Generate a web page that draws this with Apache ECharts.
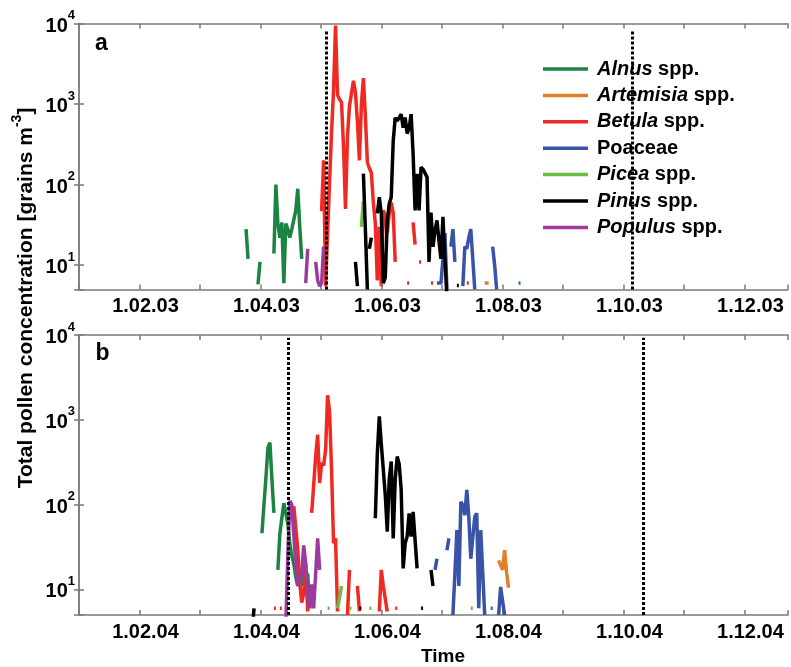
<!DOCTYPE html>
<html>
<head>
<meta charset="utf-8">
<script src="https://cdn.jsdelivr.net/npm/echarts@6/dist/echarts.min.js"></script>
<style>
  html, body { margin: 0; padding: 0; background: #fff; }
  #chart { width: 791px; height: 667px; }
</style>
</head>
<body>
<div id="chart"></div>
<script>
// Daily pollen concentrations (grains m^-3), day index counted from 1 January.
// Each series is a list of [firstDay, [daily values...]] runs; days without
// pollen are left out, so the line breaks between runs.

const seriesNames = ['Alnus spp.', 'Artemisia spp.', 'Betula spp.', 'Poaceae', 'Picea spp.', 'Pinus spp.', 'Populus spp.'];
const seriesColors = ['#1b8442', '#e07f2c', '#ee2a22', '#3953a6', '#6bbd4a', '#000000', '#9c3a9e'];

const tickLabels2003 = ['1.02.03', '1.04.03', '1.06.03', '1.08.03', '1.10.03', '1.12.03'];
const tickLabels2004 = ['1.02.04', '1.04.04', '1.06.04', '1.08.04', '1.10.04', '1.12.04'];

// ---- 2003 ----
const alnus2003 = [[84, [28, 12]], [90, [5.8, 11]],
  [98, [14, 100, 33, 22, 34, 6, 33, 28, 22, 28, 28, 48, 89, 30, 12]], [221, [6, 6]]];
const artemisia2003 = [[204, [6, 6, 6]]];
const betula2003 = [
  [122, [47, 200, 5.5, 25, 110, 450, 1500, 9400, 1300, 1150, 1050, 300, 50, 400, 950, 950, 1950, 1400,
         600, 200, 1000, 2100, 700, 190, 160, 140, 60, 33, 6.5, 30, 5.5, 48, 40, 25, 44, 60, 44, 11]],
  [165, [6, 6]], [168, [34, 18]], [171, [11, 11]], [177, [6, 6]], [195, [6, 6]]];
const poaceae2003 = [[180, [6, 6, 6, 12, 25, 5]], [187, [17, 28, 11]],
  [193, [5.5, 17, 16, 22, 28, 12, 5]], [208, [17, 10, 5]]];
const picea2003 = [[142, [30, 62]], [152, [6, 6]]];
const pinus2003 = [[139, [11, 5.5]], [143, [137, 28, 5]], [146, [16, 22]],
  [150, [44, 70, 44, 6, 7, 36, 58, 70, 350, 680, 620, 680, 750, 510, 680, 430, 510, 750, 240, 48,
         136, 48, 165, 155, 150, 124, 11, 45, 17, 27, 36, 20, 12, 40, 12, 4]],
  [190, [5.6, 5.6]]];
const populus2003 = [[114, [6, 16]], [119, [11, 6.5, 5.5, 6, 17]]];

// ---- 2004 ----
const alnus2004 = [[92, [46, 100, 210, 470, 540, 200, 80]],
  [100, [17, 46, 46, 104, 104, 60, 35, 25, 20, 14, 11, 17, 11, 17, 17, 15, 6]]];
const artemisia2004 = [[197, [6, 6]], [211, [22, 21, 17, 29, 16, 10.5]]];
const betula2004 = [[98, [6, 6]], [101, [6, 6]], [108, [96, 93, 30, 12, 7, 9, 20, 5.5]],
  [117, [80, 170, 370, 667, 180, 310, 290, 440, 1950, 1250, 250, 35, 40, 5.5]],
  [135, [5, 17]], [140, [11, 5.5]], [151, [5.5, 17, 11, 10.5, 5.5]], [159, [6, 6]]];
const poaceae2004 = [[179, [17, 23]], [185, [29, 40]],
  [188, [5, 15, 50, 11, 108, 99, 75, 149, 72, 23, 22, 72, 79, 6, 50, 50, 5]],
  [207, [6, 6]], [211, [5, 10.7, 10.7, 5]]];
const picea2004 = [[125, [6, 6]], [130, [6, 8, 11]], [136, [6, 6]], [146, [6, 6]]];
const pinus2004 = [[87, [3, 6]], [141, [6, 6]],
  [149, [69, 400, 1100, 520, 510, 130, 48, 200, 322, 40, 200, 369, 300, 150, 17.7, 35, 42, 79, 42, 82, 38, 17.7]],
  [172, [6, 6]], [177, [17, 11]]];
const populus2004 = [[104, [4, 25, 111, 100, 44, 20, 11, 11, 15, 33, 20, 8, 6, 11.5, 6, 6, 40, 17]]];

// Dotted reference dates (day index) and the concentration their lines reach
const markerDays2003 = [124.25, 278];
const markerDays2004 = [105.2, 283.5];
const markerTop2003 = 8000;
const markerTop2004 = 9300;

const panels = [
  { labels: tickLabels2003, data: [alnus2003, artemisia2003, betula2003, poaceae2003, picea2003, pinus2003, populus2003],
    markers: markerDays2003, markerTop: markerTop2003 },
  { labels: tickLabels2004, data: [alnus2004, artemisia2004, betula2004, poaceae2004, picea2004, pinus2004, populus2004],
    markers: markerDays2004, markerTop: markerTop2004 }
];

// ---- drawing ----
const fontFamily = '"Liberation Sans", Arial, Helvetica, sans-serif';
const frameColor = '#7a7a7a';
const monthSpan = 365 / 12;   // evenly spaced monthly ticks
const xMax = 356.5;

function runsToPoints(runs) {
  const pts = [];
  runs.forEach(([start, vals], k) => {
    if (k > 0) pts.push([start - 0.5, null]);
    vals.forEach((v, i) => pts.push([start + i, v]));
  });
  return pts;
}

const grids = [
  { left: 79, top: 23.5, width: 713, height: 266 },
  { left: 79, top: 335, width: 713, height: 280 }
];

const axisLine = { show: true, lineStyle: { color: frameColor, width: 1.5 } };
const axisTick = { show: true, inside: true, length: 5, lineStyle: { color: frameColor, width: 1.5 } };

const xAxes = [];
const yAxes = [];
panels.forEach((p, gi) => {
  const labels = p.labels;
  xAxes.push({
    type: 'value', gridIndex: gi, position: 'bottom', min: 0, max: xMax, interval: monthSpan,
    axisLine, axisTick, splitLine: { show: false },
    axisLabel: {
      margin: 7, color: '#000', fontSize: 20, fontWeight: 'bold', fontFamily, padding: [0, 0, 0, 12],
      formatter: v => {
        const idx = Math.round(v / monthSpan);
        if (Math.abs(v - idx * monthSpan) > 0.01) return '';
        return idx % 2 === 1 && labels[(idx - 1) / 2] ? labels[(idx - 1) / 2] : '';
      }
    }
  });
  xAxes.push({
    type: 'value', gridIndex: gi, position: 'top', min: 0, max: xMax, interval: monthSpan,
    axisLine, axisTick, axisLabel: { show: false }, splitLine: { show: false }
  });
  yAxes.push({
    type: 'log', logBase: 10, gridIndex: gi, position: 'left', min: 5, max: 10000,
    axisLine, axisTick, splitLine: { show: false },
    axisLabel: {
      margin: 4, color: '#000', fontFamily, padding: [5, 0, 0, 0],
      formatter: v => {
        const e = Math.log10(v), r = Math.round(e);
        return Math.abs(e - r) < 1e-6 ? '{b|10}{s|' + r + '}' : '';
      },
      rich: {
        b: { fontSize: 20, fontWeight: 'bold', fontFamily, color: '#000', lineHeight: 20, verticalAlign: 'bottom' },
        s: { fontSize: 13, fontWeight: 'bold', fontFamily, color: '#000', lineHeight: 13, verticalAlign: 'bottom', padding: [0, 0, 14, 0] }
      }
    }
  });
  yAxes.push({
    type: 'log', logBase: 10, gridIndex: gi, position: 'right', min: 5, max: 10000,
    axisLine, axisTick, axisLabel: { show: false }, splitLine: { show: false }
  });
});

const series = [];
panels.forEach((p, gi) => {
  p.data.forEach((runs, si) => {
    const s = {
      name: seriesNames[si], type: 'line', xAxisIndex: gi * 2, yAxisIndex: gi * 2,
      data: runsToPoints(runs), showSymbol: false, connectNulls: false, clip: true,
      lineStyle: { color: seriesColors[si], width: 3.5 }, itemStyle: { color: seriesColors[si] },
      emphasis: { disabled: true }, z: 2 + si * 0.01
    };
    if (si === p.data.length - 1) {
      s.markLine = {
        silent: true, symbol: ['none', 'none'], label: { show: false }, z: 6,
        lineStyle: { color: '#000', width: 3, type: [3, 2] },
        data: p.markers.map(d => [{ coord: [d, 5] }, { coord: [d, p.markerTop] }])
      };
    }
    series.push(s);
  });
});

const chart = echarts.init(document.getElementById('chart'), null, { renderer: 'canvas' });
chart.setOption({
  animation: false,
  backgroundColor: '#fff',
  grid: grids,
  xAxis: xAxes,
  yAxis: yAxes,
  legend: {
    data: seriesNames, orient: 'vertical', left: 541, top: 48,
    itemWidth: 45, itemHeight: 3.5, icon: 'rect', itemGap: 6.4,
    backgroundColor: '#fff', padding: [11, 4, 8, 2], selectedMode: false,
    textStyle: {
      fontSize: 20, fontWeight: 'bold', fontFamily, color: '#000', lineHeight: 20, padding: [0, 0, 0, 4],
      rich: {
        i: { fontSize: 20, fontWeight: 'bold', fontStyle: 'italic', fontFamily, color: '#000', lineHeight: 20 },
        r: { fontSize: 20, fontWeight: 'bold', fontFamily, color: '#000', lineHeight: 20 }
      }
    },
    formatter: name => {
      const m = name.match(/^(\S+) spp\.$/);
      return m ? '{i|' + m[1] + '}{r| spp.}' : '{r|' + name + '}';
    }
  },
  graphic: [
    { type: 'text', x: 101.5, y: 44, style: { text: 'a', fontSize: 23, fontWeight: 'bold', fontFamily, fill: '#000', align: 'center', verticalAlign: 'middle' } },
    { type: 'text', x: 102.5, y: 354, style: { text: 'b', fontSize: 23, fontWeight: 'bold', fontFamily, fill: '#000', align: 'center', verticalAlign: 'middle' } },
    { type: 'text', x: 443, y: 657, style: { text: 'Time', fontSize: 19, fontWeight: 'bold', fontFamily, fill: '#000', align: 'center', verticalAlign: 'middle' } },
    { type: 'text', x: 25, y: 298, rotation: Math.PI / 2,
      style: {
        text: '{t|Total pollen concentration [grains m}{s|-3}{t|]}', align: 'center', verticalAlign: 'middle',
        rich: {
          t: { fontSize: 21, fontWeight: 'bold', fontFamily, fill: '#000', lineHeight: 23, verticalAlign: 'bottom' },
          s: { fontSize: 14, fontWeight: 'bold', fontFamily, fill: '#000', lineHeight: 14, verticalAlign: 'bottom', padding: [0, 0, 12, 0] }
        }
      } }
  ],
  series
});
</script>
</body>
</html>
